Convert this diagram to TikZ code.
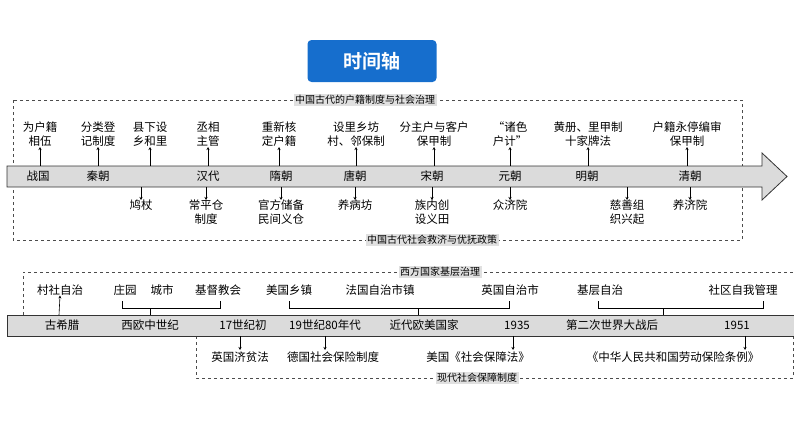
\documentclass[tikz,border=0pt]{standalone}
\usepackage{fontspec}
\setmainfont{Noto Sans CJK SC}
\newfontfamily\cjkbold{Noto Sans CJK SC Bold}
\usetikzlibrary{positioning,arrows.meta}
\definecolor{bar-gray}{gray}{0.86}
\definecolor{tag-gray}{gray}{0.88}
\definecolor{title-blue}{RGB}{22,110,205}
\tikzstyle{barstyle}=[draw=black!80,fill=bar-gray,line width=0.8pt]
\tikzstyle{framestyle}=[draw=black!70,dashed,line width=0.6pt]
\tikzstyle{tagstyle}=[fill=tag-gray,inner sep=1.5pt,font=\fontsize{10}{12}\selectfont]
\tikzstyle{itemstyle}=[align=center,inner sep=0pt,font=\fontsize{11.5}{14}\selectfont]
\tikzstyle{erastyle}=[inner sep=0pt,font=\fontsize{11.5}{14}\selectfont]
\tikzstyle{pointer}=[-{Stealth[length=3pt,width=3pt]},line width=0.6pt]
\tikzstyle{brace}=[line width=0.6pt]
% up-item: name, x, bar y, text
\newcommand{\upitem}[4]{ \node [style=itemstyle,anchor=south] (#1) at (#2,#3-19) {#4}; \draw [style=pointer] (#2,#3) -- (#1.south); }
\newcommand{\downitem}[4]{ \node [style=itemstyle,anchor=north] (#1) at (#2,#3+13) {#4}; \draw [style=pointer] (#2,#3) -- (#1.north); }
\newcommand{\era}[3]{ \node [style=erastyle] (#1) at (#2,#3) {#1}; }

\begin{document}
\begin{tikzpicture}[x=1pt,y=-1pt]
\useasboundingbox (0,0) rectangle (794,447);
% title
\node [fill=title-blue,rounded corners=4pt,minimum width=129pt,minimum height=42pt,text=white,font=\cjkbold\fontsize{19}{22}\selectfont] (title) at (372,61) {时间轴};
% ---- ancient china ----
\draw [style=framestyle] (13,100) rectangle (742,240);
\node [style=tagstyle] (tagHuji) at (365,100) {中国古代的户籍制度与社会治理};
\node [style=tagstyle] (tagJiuji) at (432,240) {中国古代社会救济与优抚政策};
\draw [style=barstyle] (7,166) -- (762,166) -- (762,153) -- (787,176.5) -- (762,200) -- (762,187) -- (7,187) -- cycle;
\era{战国}{38}{176.5} \era{秦朝}{98}{176.5} \era{汉代}{208}{176.5}
\era{隋朝}{281}{176.5} \era{唐朝}{355}{176.5} \era{宋朝}{432}{176.5}
\era{元朝}{510}{176.5} \era{明朝}{587}{176.5} \era{清朝}{690}{176.5}
\upitem{uZhanguo}{40}{166}{为户籍\\相伍}
\upitem{uQin}{98}{166}{分类登\\记制度}
\upitem{uXian}{150}{166}{县下设\\乡和里}
\upitem{uHan}{208}{166}{丞相\\主管}
\upitem{uSui}{279}{166}{重新核\\定户籍}
\upitem{uTang}{356}{166}{设里乡坊\\村、邻保制}
\upitem{uSong}{434}{166}{分主户与客户\\保甲制}
\upitem{uYuan}{510}{166}{“诸色\\户计”}
\upitem{uMing}{588}{166}{黄册、里甲制\\十家牌法}
\upitem{uQing}{687}{166}{户籍永停编审\\保甲制}
\downitem{dJiuzhang}{141}{187}{鸠杖}
\downitem{dHan}{206}{187}{常平仓\\制度}
\downitem{dSui}{281}{187}{官方储备\\民间义仓}
\downitem{dTang}{355}{187}{养病坊}
\downitem{dSong}{432}{187}{族内创\\设义田}
\downitem{dYuan}{510}{187}{众济院}
\downitem{dMing}{627}{187}{慈善组\\织兴起}
\downitem{dQing}{690}{187}{养济院}
% ---- west ----
\draw [style=framestyle] (23,315) -- (23,272) -- (794,272);
\draw [style=framestyle] (196,336) -- (196,378) -- (793,378) -- (793,336);
\node [style=tagstyle] (tagJiceng) at (440,272) {西方国家基层治理};
\node [style=tagstyle] (tagBaozhang) at (477,378) {现代社会保障制度};
\draw [style=barstyle] (7,315) rectangle (794,336);
\era{古希腊}{62}{325.5} \era{西欧中世纪}{150}{325.5} \era{17世纪初}{243}{325.5}
\era{19世纪80年代}{325}{325.5} \era{近代欧美国家}{424}{325.5} \era{1935}{517}{325.5}
\era{第二次世界大战后}{612}{325.5} \era{1951}{737}{325.5}
\node [style=itemstyle] (cunshe) at (60,290) {村社自治};
\draw [style=pointer] (59,315) -- (cunshe.south);
\node [style=itemstyle] (zhuangyuan) at (125,290) {庄园};
\node [style=itemstyle] (chengshi) at (162,290) {城市};
\node [style=itemstyle] (jiaohui) at (218,290) {基督教会};
\node [style=itemstyle] (xiangzhen) at (289,290) {美国乡镇};
\node [style=itemstyle] (faguo) at (380,290) {法国自治市镇};
\node [style=itemstyle] (yingguo) at (510,290) {英国自治市};
\node [style=itemstyle] (jiceng) at (600,290) {基层自治};
\node [style=itemstyle] (shequ) at (743,290) {社区自我管理};
\draw [style=brace] (122,301) -- (122,308) -- (220,308) -- (220,301) (150,308) -- (150,315);
\draw [style=brace] (289,301) -- (289,308) -- (509,308) -- (509,301) (418,308) -- (418,315);
\draw [style=brace] (598,301) -- (598,308) -- (763,308) -- (763,301) (663,308) -- (663,315);
\node [style=itemstyle] (jipin) at (240,357) {英国济贫法};
\node [style=itemstyle] (deguo) at (333,357) {德国社会保险制度};
\node [style=itemstyle] (meiguo) at (478,357) {美国《社会保障法》};
\node [style=itemstyle] (tiaoli) at (673,357) {《中华人民共和国劳动保险条例》};
\draw [style=pointer] (240,336) -- (240,350);
\draw [style=pointer] (325,336) -- (325,350);
\draw [style=pointer] (513,336) -- (513,350);
\draw [style=pointer] (745,336) -- (745,350);
\end{tikzpicture}
\end{document}
